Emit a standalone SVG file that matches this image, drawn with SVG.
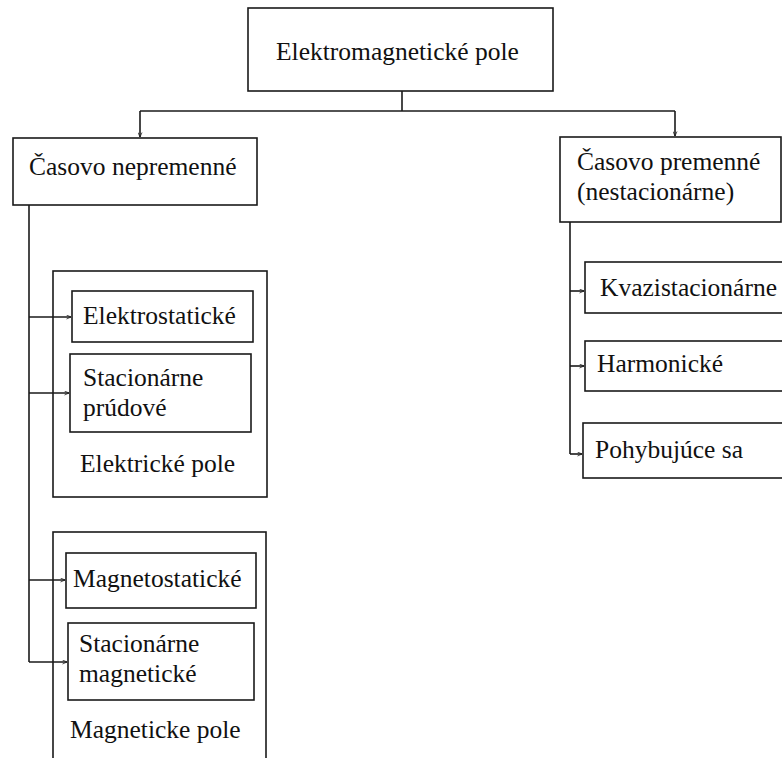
<svg xmlns="http://www.w3.org/2000/svg" width="782" height="758" viewBox="0 0 782 758">
<defs>
<marker id="ah" viewBox="0 0 10 10" refX="10" refY="5" markerWidth="5" markerHeight="5" orient="auto" markerUnits="userSpaceOnUse">
<path d="M1,1 L10,5 L1,9" fill="none" stroke="#1a1a1a" stroke-width="1.5"/>
</marker>
</defs>
<rect width="782" height="758" fill="#fff"/>

<g id="group-elektricke">
<rect x="53" y="271" width="214" height="226" fill="none" stroke="#1a1a1a" stroke-width="1.6"/>
<text x="80" y="472" font-family="Liberation Serif" font-size="25.5" fill="#111">Elektrické pole</text>
</g>
<g id="group-magneticke">
<rect x="53" y="532" width="213" height="240" fill="none" stroke="#1a1a1a" stroke-width="1.6"/>
<text x="70" y="738" font-family="Liberation Serif" font-size="25.5" fill="#111">Magneticke pole</text>
</g>

<g id="connectors" fill="none" stroke="#1a1a1a" stroke-width="1.6">
<polyline points="402,91 402,111"/>
<polyline points="140,111 675,111"/>
<polyline points="140,111 140,137" marker-end="url(#ah)"/>
<polyline points="675,111 675,136" marker-end="url(#ah)"/>
<polyline points="29,205 29,662"/>
<polyline points="29,317 71,317" marker-end="url(#ah)"/>
<polyline points="29,393 69,393" marker-end="url(#ah)"/>
<polyline points="29,580 65,580" marker-end="url(#ah)"/>
<polyline points="29,662 67,662" marker-end="url(#ah)"/>
<polyline points="570,222 570,454"/>
<polyline points="570,291 584,291" marker-end="url(#ah)"/>
<polyline points="570,366 584,366" marker-end="url(#ah)"/>
<polyline points="570,454 582,454" marker-end="url(#ah)"/>
</g>

<g id="node-em">
<rect x="248" y="8" width="305" height="83" fill="#fff" stroke="#1a1a1a" stroke-width="1.6"/>
<text x="276" y="60" font-family="Liberation Serif" font-size="25.5" fill="#111">Elektromagnetické pole</text>
</g>
<g id="node-nepremenne">
<rect x="13" y="138" width="244" height="67" fill="#fff" stroke="#1a1a1a" stroke-width="1.6"/>
<text x="29" y="175" font-family="Liberation Serif" font-size="25.5" fill="#111">Časovo nepremenné</text>
</g>
<g id="node-premenne">
<rect x="560" y="137" width="221" height="85" fill="#fff" stroke="#1a1a1a" stroke-width="1.6"/>
<text x="577" y="170" font-family="Liberation Serif" font-size="25.5" fill="#111">Časovo premenné</text>
<text x="577" y="200" font-family="Liberation Serif" font-size="25.5" fill="#111">(nestacionárne)</text>
</g>
<g id="node-elektrostaticke">
<rect x="72" y="291" width="181" height="51" fill="#fff" stroke="#1a1a1a" stroke-width="1.6"/>
<text x="83" y="324" font-family="Liberation Serif" font-size="25.5" fill="#111">Elektrostatické</text>
</g>
<g id="node-stacionarne-prudove">
<rect x="70" y="354" width="181" height="78" fill="#fff" stroke="#1a1a1a" stroke-width="1.6"/>
<text x="83" y="386" font-family="Liberation Serif" font-size="25.5" fill="#111">Stacionárne</text>
<text x="83" y="416" font-family="Liberation Serif" font-size="25.5" fill="#111">prúdové</text>
</g>
<g id="node-magnetostaticke">
<rect x="66" y="553" width="190" height="55" fill="#fff" stroke="#1a1a1a" stroke-width="1.6"/>
<text x="73" y="587" font-family="Liberation Serif" font-size="25.5" fill="#111">Magnetostatické</text>
</g>
<g id="node-stacionarne-magneticke">
<rect x="68" y="623" width="186" height="77" fill="#fff" stroke="#1a1a1a" stroke-width="1.6"/>
<text x="79" y="652" font-family="Liberation Serif" font-size="25.5" fill="#111">Stacionárne</text>
<text x="79" y="682" font-family="Liberation Serif" font-size="25.5" fill="#111">magnetické</text>
</g>
<g id="node-kvazistacionarne">
<rect x="585" y="262" width="210" height="51" fill="#fff" stroke="#1a1a1a" stroke-width="1.6"/>
<text x="600" y="296" font-family="Liberation Serif" font-size="25.5" fill="#111">Kvazistacionárne</text>
</g>
<g id="node-harmonicke">
<rect x="585" y="341" width="210" height="50" fill="#fff" stroke="#1a1a1a" stroke-width="1.6"/>
<text x="597" y="372" font-family="Liberation Serif" font-size="25.5" fill="#111">Harmonické</text>
</g>
<g id="node-pohybujuce">
<rect x="583" y="423" width="212" height="55" fill="#fff" stroke="#1a1a1a" stroke-width="1.6"/>
<text x="595" y="458" font-family="Liberation Serif" font-size="25.5" fill="#111">Pohybujúce sa</text>
</g>
</svg>
